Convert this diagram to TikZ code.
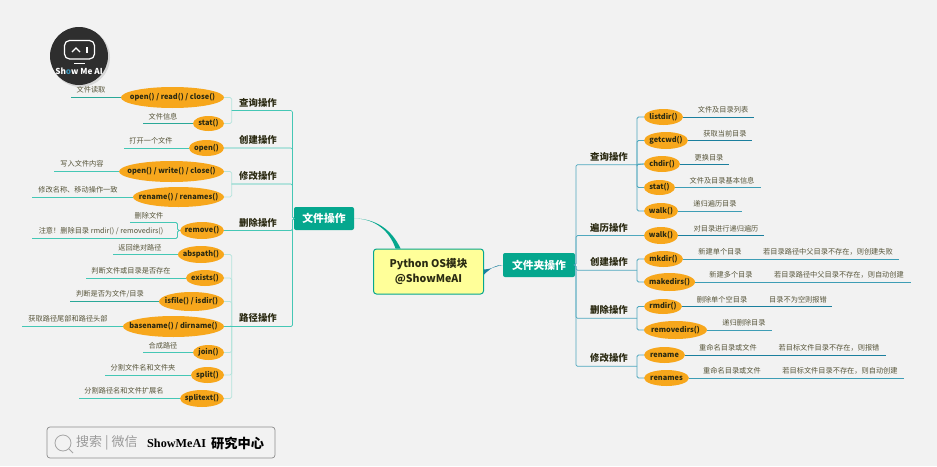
\documentclass[tikz,border=0pt]{standalone}
\usepackage{fontspec}
\setmainfont{Noto Sans CJK SC}
\newfontfamily\serifb{Liberation Serif}
\usetikzlibrary{shapes.geometric}
\definecolor{bgc}{HTML}{F2F2F2}
\definecolor{orangeE}{HTML}{F7A71C}
\definecolor{tealbox}{HTML}{05A78E}
\definecolor{tealL}{HTML}{45C7B5}
\definecolor{tealD}{HTML}{2AA898}
\definecolor{tealP}{HTML}{B4E4DC}
\definecolor{blueL}{HTML}{4FA8BE}
\definecolor{blueD}{HTML}{1B7F9E}
\definecolor{blueM}{HTML}{3E9DB5}
\definecolor{yellowC}{HTML}{FFFF99}
\definecolor{txtB}{HTML}{2B2A12}
\definecolor{txtL}{HTML}{57553A}
\tikzset{
  x=1pt,y=-1pt,
  leafnode/.style={ellipse,fill=orangeE,inner sep=0pt},
  leaftext/.style={inner sep=0pt,text=txtB,font=\fontsize{7.4}{9}\selectfont\bfseries},
  lab/.style={inner sep=0pt,text=txtL,font=\fontsize{7.2}{9}\selectfont},
  optext/.style={inner sep=0pt,text=txtB,font=\fontsize{9.4}{11}\selectfont\bfseries},
  mainbox/.style={fill=tealbox,rounded corners=2pt,text=white,inner sep=0pt,font=\fontsize{10.8}{12}\selectfont\bfseries},
  lline/.style={draw=tealL,line width=0.8pt},
  rline/.style={draw=blueD,line width=0.8pt},
  ltrunk/.style={draw=tealL,line width=0.7pt,rounded corners=1.5pt},
  lbr/.style={draw=tealP,line width=0.7pt,rounded corners=1.5pt},
  rtrunk/.style={draw=blueL,line width=0.7pt,rounded corners=1.5pt},
  rbr/.style={draw=blueL,line width=0.8pt,rounded corners=1.5pt},
}
\newcommand{\lcol}[1]{\tikzset{lline/.style={draw=#1,line width=0.8pt}}}
\newcommand{\rcol}[1]{\tikzset{rline/.style={draw=#1,line width=0.8pt}}}
% name, x1, x2, y1, y2, text
\newcommand{\ovalnode}[6]{\node[leafnode,minimum width={(#3-#2)*1pt},minimum height={(#5-#4)*1pt},label={[leaftext]center:#6}] (#1) at ({(#2+#3)/2},{(#4+#5)/2}) {};}
\newcommand{\leafL}[9]{\ovalnode{#1}{#2}{224}{#3}{#4}{#5}\coordinate (#1e) at (#6,{(#3+#4)/2}); \draw[lline] (#1.west) -- (#1e); \node[lab] (#1t) at (#7,#8) {#9};}
\newcommand{\leafR}[9]{\ovalnode{#1}{644}{#2}{#3}{#4}{#5}\coordinate (#1e) at (#6,{(#3+#4)/2}); \draw[rline] (#1.east) -- (#1e); \node[lab] (#1t) at (#7,#8) {#9};}
\begin{document}
\begin{tikzpicture}
\fill[bgc] (0,0) rectangle (937,466);
\useasboundingbox (0,0) rectangle (937,466);

% ---- central nodes
\node[draw=tealbox,line width=1pt,fill=yellowC,rounded corners=3pt,minimum width=110pt,minimum height=45pt,inner sep=0pt,align=center,text=txtB,font=\fontsize{10.6}{14.5}\selectfont\bfseries] (cn) at (428.5,271.5) {Python OS模块\\@ShowMeAI};
\node[mainbox,minimum width=60pt,minimum height=23pt] (fb) at (324,218.5) {文件操作};
\node[mainbox,minimum width=72pt,minimum height=24pt] (db) at (539,265) {文件夹操作};
\fill[tealbox] (fb.east) .. controls (376,218.5) and (390,232) .. ([xshift=-33pt]cn.north) -- ([xshift=-28pt]cn.north) .. controls (392,230) and (376,218.5) .. (fb.east);
\fill[blueD] (db.west) .. controls (496,265) and (492,267) .. ([yshift=-3pt]cn.east) -- ([yshift=2pt]cn.east) .. controls (492,269) and (496,266) .. (db.west);

% ---- left leaves
\lcol{tealD}
\leafL{a1}{121}{87}{108}{open() / read() / close()}{71}{91}{90}{文件读取}
\leafL{a2}{193}{116}{131}{stat()}{143}{163}{116.5}{文件信息}
\lcol{tealL}
\leafL{b1}{189}{140}{156}{open()}{124}{151}{141}{打开一个文件}
\leafL{c1}{119}{161}{182}{open() / write() / close()}{54}{82}{164}{写入文件内容}
\leafL{c2}{133}{187}{207}{rename() / renames()}{32}{78}{190}{修改名称、移动操作一致}
\ovalnode{d1}{180}{224}{222}{239}{remove()}
\coordinate (dj) at (177.5,230.5);
\coordinate (de1) at (130,222.5);
\coordinate (de2) at (32,238.5);
\draw[lline,rounded corners=1.5pt] (d1.west) -- (dj) |- (de1);
\draw[lline,rounded corners=1.5pt] (d1.west) -- (dj) |- (de2);
\node[lab] (d1t) at (149,216) {删除文件};
\node[lab] (d2t) at (101,231) {注意！删除目录 rmdir() / removedirs()};
\leafL{e1}{178}{246}{263}{abspath()}{113}{140}{247.5}{返回绝对路径}
\leafL{e2}{186}{270}{286}{exists()}{86}{131}{271}{判断文件或目录是否存在}
\lcol{tealD}
\leafL{e3}{159}{292}{311}{isfile() / isdir()}{70}{110}{294.5}{判断是否为文件/目录}
\lcol{tealL}
\leafL{e4}{123}{316}{337}{basename() / dirname()}{22}{68}{319}{获取路径尾部和路径头部}
\leafL{e5}{193}{345}{360}{join()}{143}{163}{345.5}{合成路径}
\leafL{e6}{191}{367}{383}{split()}{105}{143}{368}{分割文件名和文件夹}
\leafL{e7}{180}{390}{407}{splitext()}{79}{124}{391}{分割路径名和文件扩展名}

% ---- left operations
\coordinate (lhub) at (292.5,218.5);
\coordinate (j1) at (231.7,110.5);
\coordinate (j3) at (231.7,184);
\coordinate (j5) at (231.7,326.5);
\node[optext] (o1) at (258,103) {查询操作};
\node[optext] (o2) at (258,140) {创建操作};
\node[optext] (o3) at (258,176) {修改操作};
\node[optext] (o4) at (258,223) {删除操作};
\node[optext] (o5) at (258,318) {路径操作};
\foreach \e in {a1,a2} \draw[lbr] (j1) |- (\e.east);
\foreach \e in {c1,c2} \draw[lbr] (j3) |- (\e.east);
\foreach \e in {e1,e2,e3,e4,e5,e6,e7} \draw[lbr] (j5) |- (\e.east);
\draw[ltrunk] (fb.west) -- (lhub) |- (j1);
\draw[ltrunk] (fb.west) -- (lhub) |- (b1.east);
\draw[ltrunk] (fb.west) -- (lhub) |- (j3);
\draw[ltrunk] (fb.west) -- (lhub) |- (d1.east);
\draw[ltrunk] (fb.west) -- (lhub) |- (j5);
\draw[ltrunk] (j5) -- (e4.east);

% ---- right leaves
\rcol{blueD}
\leafR{r1}{683}{109}{125}{listdir()}{754}{723}{110}{文件及目录列表}
\leafR{r2}{688}{132}{149}{getcwd()}{752}{725}{133.5}{获取当前目录}
\leafR{r3}{680}{156}{172}{chdir()}{729}{709}{157.5}{更换目录}
\rcol{blueM}
\leafR{r4}{675}{180}{195}{stat()}{761}{722}{180.5}{文件及目录基本信息}
\leafR{r5}{678}{203}{219}{walk()}{742}{715}{204}{递归遍历目录}
\rcol{blueD}
\leafR{s1}{678}{227}{244}{walk()}{764}{726}{228.5}{对目录进行递归遍历}
\rcol{blueM}
\leafR{t1}{683}{251}{267}{mkdir()}{899}{720}{252}{新建单个目录}
\node[lab] (t1u) at (828,252) {若目录路径中父目录不存在，则创建失败};
\leafR{t2}{695}{273}{291}{makedirs()}{911}{731}{275}{新建多个目录}
\node[lab] (t2u) at (839,275) {若目录路径中父目录不存在，则自动创建};
\rcol{blueD}
\leafR{u1}{682}{299}{314}{rmdir()}{832}{722}{299.5}{删除单个空目录}
\node[lab] (u1u) at (798,299.5) {目录不为空则报错};
\rcol{blueM}
\leafR{u2}{707}{321}{339}{removedirs()}{772}{744}{323}{递归删除目录}
\rcol{blueD}
\leafR{v1}{685}{347}{363}{rename}{886}{728}{347.5}{重命名目录或文件}
\node[lab] (v1u) at (829,347.5) {若目标文件目录不存在，则报错};
\rcol{blueM}
\leafR{v2}{689}{370}{386}{renames}{904}{732}{371}{重命名目录或文件}
\node[lab] (v2u) at (840,371) {若目标文件目录不存在，则自动创建};

% ---- right operations
\coordinate (rhub) at (576,265);
\coordinate (k1) at (637,164.7);
\coordinate (k3) at (637,270.3);
\coordinate (k4) at (637,318.3);
\coordinate (k5) at (637,366.3);
\node[optext] (p1) at (609,157) {查询操作};
\node[optext] (p2) at (609,228) {遍历操作};
\node[optext] (p3) at (609,262) {创建操作};
\node[optext] (p4) at (609,310) {删除操作};
\node[optext] (p5) at (609,358) {修改操作};
\draw[rtrunk] (db.east) -- (rhub) |- (k1);
\draw[rtrunk] (db.east) -- (rhub) |- (s1.west);
\draw[rtrunk] (db.east) -- (rhub) |- (k3);
\draw[rtrunk] (db.east) -- (rhub) |- (k4);
\draw[rtrunk] (db.east) -- (rhub) |- (k5);
\foreach \e in {r1,r2,r3,r4,r5} \draw[rbr] (k1) |- (\e.west);
\draw[rbr] (k1) -- (r3.west);
\foreach \e in {t1,t2} \draw[rbr] (k3) |- (\e.west);
\foreach \e in {u1,u2} \draw[rbr] (k4) |- (\e.west);
\foreach \e in {v1,v2} \draw[rbr] (k5) |- (\e.west);

% ---- logo
\fill[black!35,opacity=.35] (80.5,57.5) circle (29.5);
\node[circle,fill=black!82,minimum size=58pt,inner sep=0pt] (logo) at (79,56) {};
\draw[white,line width=1.2pt,rounded corners=5pt] (64.5,40.5) rectangle (94.5,59);
\draw[white,line width=1.1pt] (72,52) -- (76,48) -- (80,52);
\draw[white,line width=1.2pt] (87,47) -- (87,53);
\draw[white,line width=1.1pt] (74,63.5) -- (85,63.5);
\node[inner sep=0pt,text=white,font=\fontsize{8.2}{9}\selectfont\bfseries] (logot) at (79,71) {Sh\textcolor{cyan!70!black}{o}w Me AI};

% ---- bottom box
\node[draw=black!45,line width=.7pt,rounded corners=3pt,minimum width=228pt,minimum height=31pt,inner sep=0pt] (sb) at (161,442.5) {};
\draw[black!35,line width=.8pt] (63,443) circle (8);
\draw[black!35,line width=.8pt] (68.8,448.8) -- (73,453);
\node[inner sep=0pt,anchor=west,text=black!40,font=\fontsize{13}{14}\selectfont] (s1t) at (76,443) {搜索 | 微信};
\node[inner sep=0pt,anchor=west,text=black,font=\fontsize{12.2}{14}\selectfont\serifb\bfseries] (s2t) at (147,443) {ShowMeAI};
\node[inner sep=0pt,anchor=west,text=black,font=\fontsize{13.2}{14}\selectfont\bfseries] (s3t) at (211,443) {研究中心};
\end{tikzpicture}
\end{document}
